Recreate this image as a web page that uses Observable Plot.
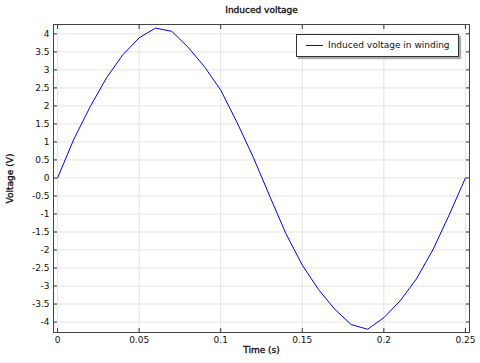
<!DOCTYPE html>
<html><head><meta charset="utf-8">
<script src="https://cdn.jsdelivr.net/npm/d3@7"></script>
<script src="https://cdn.jsdelivr.net/npm/@observablehq/plot@0.6"></script>
<style>
body{margin:0;background:#fff;}
#wrap{position:relative;width:480px;height:363px;font-family:"DejaVu Sans",sans-serif;}
#legend{position:absolute;left:296px;top:34px;width:161px;height:21px;border:1px solid #333;background:#fff;box-shadow:2px 2px 1px #aaa;font-size:9px;color:#111;}
#legend .sw{position:absolute;left:9px;top:10px;width:17px;height:0;border-top:1px solid #0000ff;}
#legend .lb{position:absolute;left:31px;top:4px;line-height:12px;white-space:nowrap;}
</style>
</head><body>
<div id="wrap"><div id="legend"><div class="sw"></div><div class="lb">Induced voltage in winding</div></div></div>
<script>
const time = [0,0.01,0.02,0.03,0.04,0.05,0.06,0.07,0.08,0.09,0.1,0.11,0.12,0.13,0.14,0.15,0.16,0.17,0.18,0.19,0.2,0.21,0.22,0.23,0.24,0.25];
const voltage = [0,1.08,1.98,2.78,3.42,3.89,4.16,4.07,3.63,3.09,2.44,1.54,0.57,-0.5,-1.55,-2.42,-3.1,-3.65,-4.07,-4.2,-3.88,-3.41,-2.8,-2.0,-1.03,0];
const xTicks = [0,0.05,0.1,0.15,0.2,0.25];
const yTicks = [-4,-3.5,-3,-2.5,-2,-1.5,-1,-0.5,0,0.5,1,1.5,2,2.5,3,3.5,4];
const title = "Induced voltage";
const xLabel = "Time (s)";
const yLabel = "Voltage (V)";

const data = time.map((t, i) => ({t, v: voltage[i]}));
const fmt = d => String(d);
const none = () => "";
const labelStyle = {fill: "#111", stroke: "#111", strokeWidth: 0.35, fontWeight: "normal"};

const chart = Plot.plot({
  width: 480, height: 363,
  marginLeft: 53, marginRight: 11, marginTop: 24, marginBottom: 31,
  style: {fontFamily: "DejaVu Sans, sans-serif", fontSize: "9px", color: "#111", background: "transparent"},
  x: {domain: [-0.0025, 0.2525]},
  y: {domain: [-4.29, 4.26]},
  marks: [
    Plot.gridX(xTicks, {stroke: "#e4e4e4", strokeOpacity: 1}),
    Plot.gridY(yTicks, {stroke: "#e4e4e4", strokeOpacity: 1}),
    Plot.line(data, {x: "t", y: "v", stroke: "#0000ff", strokeWidth: 1}),
    Plot.axisX(xTicks, {anchor: "bottom", tickSize: -4, tickPadding: 8.5, tickFormat: fmt, label: null, stroke: "#333"}),
    Plot.axisX(xTicks, {anchor: "top", tickSize: -4, tickFormat: none, label: null, stroke: "#333"}),
    Plot.axisY(yTicks, {anchor: "left", tickSize: -4, tickPadding: 8, tickFormat: fmt, label: null, stroke: "#333"}),
    Plot.axisY(yTicks, {anchor: "right", tickSize: -4, tickFormat: none, label: null, stroke: "#333"}),
    Plot.frame({stroke: "#444"}),
    Plot.text([title], {frameAnchor: "top", lineAnchor: "middle", dy: -14.5, ...labelStyle}),
    Plot.text([xLabel], {frameAnchor: "bottom", lineAnchor: "middle", dy: 18, ...labelStyle}),
    Plot.text([yLabel], {frameAnchor: "left", textAnchor: "middle", lineAnchor: "middle", rotate: -90, dx: -43, ...labelStyle})
  ]
});
chart.style.position = "absolute";
chart.style.left = "0";
chart.style.top = "0";
const wrap = document.getElementById("wrap");
wrap.insertBefore(chart, wrap.firstChild);
</script>
</body></html>
